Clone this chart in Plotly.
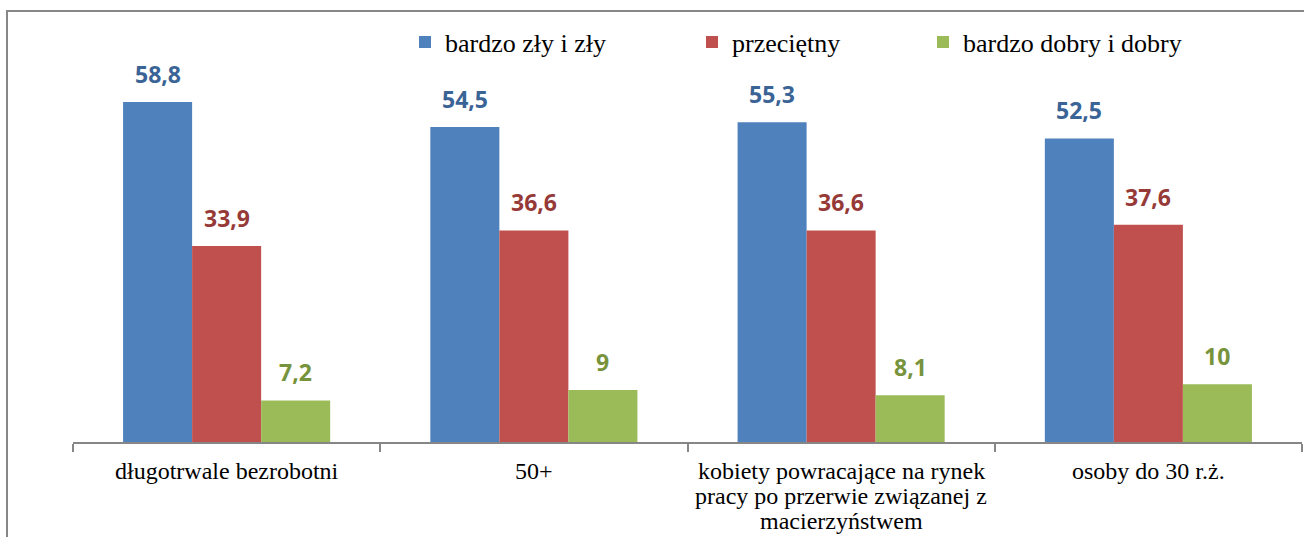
import plotly.graph_objects as go

categories = [
    "długotrwale bezrobotni",
    "50+",
    "kobiety powracające na rynek<br>pracy po przerwie związanej z<br>macierzyństwem",
    "osoby do 30 r.ż.",
]
series_names = ["bardzo zły i zły", "przeciętny", "bardzo dobry i dobry"]
bad_values = [58.8, 54.5, 55.3, 52.5]
average_values = [33.9, 36.6, 36.6, 37.6]
good_values = [7.2, 9, 8.1, 10]

bar_colors = ["#4F81BD", "#C0504D", "#9BBB59"]
label_colors = ["#3A6396", "#963A37", "#77933C"]

W, H = 1304, 537
ml, mr, mt, mb = 73, 2, 72, 95
pw = W - ml - mr
ph = H - mt - mb
SERIF = "Liberation Serif, Times New Roman, serif"

fig = go.Figure()
all_values = [bad_values, average_values, good_values]
legend_ids = ["legend", "legend2", "legend3"]
for i, (name, vals) in enumerate(zip(series_names, all_values)):
    fig.add_trace(go.Bar(
        x=categories, y=vals, name=name,
        marker=dict(color=bar_colors[i], line=dict(width=0)),
        legend=legend_ids[i], hoverinfo="skip",
    ))

def fmt(v):
    return (f"{v:g}").replace(".", ",")

cat_w = pw / len(categories)
bar_w = cat_w * (1 - 0.326) / 3
for i, vals in enumerate(all_values):
    for c, v in zip(categories, vals):
        fig.add_annotation(
            x=c, y=v, xref="x", yref="y",
            text=f"<b>{fmt(v)}</b>", showarrow=False,
            xshift=(i - 1) * bar_w, yshift=10, yanchor="bottom",
            font=dict(family="Open Sans", size=23, color=label_colors[i]),
        )

# category labels, one annotation per line for tight line spacing
for c in categories:
    for j, line in enumerate(c.split("<br>")):
        fig.add_annotation(
            x=c, y=0, xref="x", yref="y", text=line, showarrow=False,
            yanchor="middle", yshift=-(471 - (H - mb)) - 25 * j,
            font=dict(family=SERIF, size=24, color="black"),
        )

def px_to_paper_x(px):
    return (px - ml) / pw

def px_to_paper_y(py):
    return (H - mb - py) / ph

# frame
fig.add_shape(type="rect", xref="paper", yref="paper",
              x0=px_to_paper_x(7), x1=px_to_paper_x(1330),
              y0=px_to_paper_y(560), y1=px_to_paper_y(11),
              line=dict(color="#878787", width=2), fillcolor="rgba(0,0,0,0)", layer="below")

legend_px = [405, 692, 923]
legend_common = dict(orientation="h", yanchor="middle", xanchor="left",
                     font=dict(family=SERIF, size=26, color="black"),
                     bgcolor="rgba(0,0,0,0)", itemclick=False)
fig.update_layout(
    legend=dict(x=px_to_paper_x(legend_px[0]), y=px_to_paper_y(42), **legend_common),
    legend2=dict(x=px_to_paper_x(legend_px[1]), y=px_to_paper_y(42), **legend_common),
    legend3=dict(x=px_to_paper_x(legend_px[2]), y=px_to_paper_y(42), **legend_common),
)

fig.update_layout(
    width=W, height=H,
    margin=dict(l=ml, r=mr, t=mt, b=mb, autoexpand=False),
    paper_bgcolor="white", plot_bgcolor="white",
    barmode="group", bargap=0.326, bargroupgap=0,
    showlegend=True, hovermode=False,
    xaxis=dict(
        type="category", tickson="boundaries", ticks="outside", ticklen=8,
        tickcolor="#868686", tickwidth=2,
        showline=True, linecolor="#868686", linewidth=2,
        showgrid=False, showticklabels=False,
    ),
    yaxis=dict(range=[0, 64], visible=False, showgrid=False, zeroline=False),
)

fig.write_html("out.html", config={"displayModeBar": False},
               post_script="document.body.style.margin='0px';")
